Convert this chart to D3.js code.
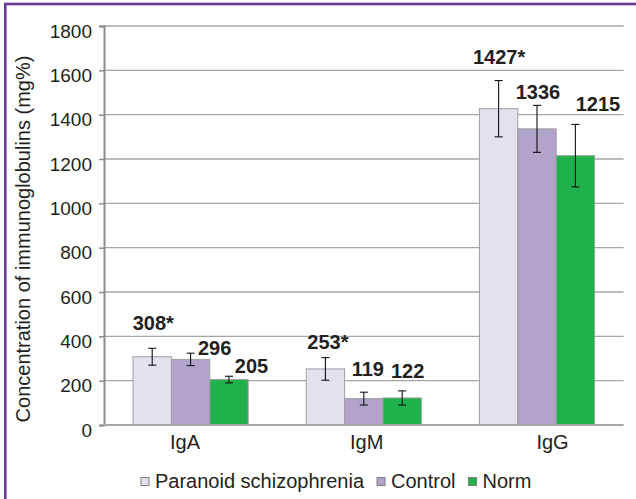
<!DOCTYPE html>
<html><head><meta charset="utf-8">
<script src="https://cdn.jsdelivr.net/npm/d3@7/dist/d3.min.js"></script>
<style>
html,body{margin:0;padding:0;background:#fff;}
svg{display:block;font-family:"Liberation Sans",Arial,Helvetica,sans-serif;}
</style></head>
<body><svg id="c" width="636" height="499"></svg>
<script>
// ---- data ----
const categories = ["IgA", "IgM", "IgG"];
const seriesNames = ["Paranoid schizophrenia", "Control", "Norm"];
const paranoidValues = [308, 253, 1427];
const controlValues = [296, 119, 1336];
const normValues = [205, 122, 1215];
const paranoidErrors = [38, 51, 127];
const controlErrors = [28, 29, 106];
const normErrors = [15, 32, 141];
const paranoidMarks = ["*", "*", "*"];
const controlMarks = ["", "", ""];
const normMarks = ["", "", ""];
const yTicks = [0, 200, 400, 600, 800, 1000, 1200, 1400, 1600, 1800];
const yTitle = "Concentration of immunoglobulins (mg%)";

// ---- layout / style ----
const colors = ["#e4e0ec", "#b1a3c9", "#21b14c"];
const W = 636, H = 499;
const plot = {left: 104, right: 623.6, top: 26, bottom: 425};
// label placement tweaks: [series][category] -> [dx from bar centre, gap above error top]
const labelDx = [[1, 2.5, 0.5], [24, 4, 1], [22.5, 5.5, 22.5]];
const labelGap = [[18, 8.7, 17], [-1.5, 16, 6], [3, 13, 13.6]];
const catLabelDx = [-5.6, 2.9, 15.5];

const series = seriesNames.map((name, i) => ({
  name,
  values: [paranoidValues, controlValues, normValues][i],
  errors: [paranoidErrors, controlErrors, normErrors][i],
  marks: [paranoidMarks, controlMarks, normMarks][i],
  color: colors[i]
}));

const svg = d3.select("#c");
svg.append("rect").attr("width", W).attr("height", H).attr("fill", "#fff");

const y = d3.scaleLinear().domain([0, 1800]).range([plot.bottom, plot.top]);
const x0 = d3.scaleBand().domain(categories).range([plot.left, plot.right])
  .paddingInner(0.335).paddingOuter(0.1675);
const x1 = d3.scaleBand().domain(seriesNames).range([0, x0.bandwidth()]).padding(0);

// gridlines
svg.append("g").selectAll("line").data(yTicks.filter(t => t > 0)).join("line")
  .attr("x1", plot.left).attr("x2", plot.right)
  .attr("y1", d => y(d)).attr("y2", d => y(d))
  .attr("stroke", "#a6a6a6").attr("stroke-width", 1.3);

// y axis
const yAxis = d3.axisLeft(y).tickValues(yTicks).tickFormat(d3.format("d")).tickSize(5).tickPadding(6);
const gy = svg.append("g").attr("transform", `translate(${plot.left},0)`).call(yAxis);
gy.select(".domain").attr("stroke", "#8c8c8c").attr("stroke-width", 2);
gy.selectAll(".tick line").attr("stroke", "#8c8c8c").attr("stroke-width", 1.5);
gy.selectAll(".tick text").attr("font-size", 19).attr("fill", "#231f20")
  .attr("font-family", "Liberation Sans, Arial, sans-serif")
  .attr("dy", null).attr("y", 11).attr("x", -12);

// bars
const groups = svg.append("g").selectAll("g").data(categories).join("g")
  .attr("transform", d => `translate(${x0(d)},0)`);

groups.each(function(cat, ci) {
  const g = d3.select(this);
  series.forEach((s, si) => {
    const v = s.values[ci];
    g.append("rect")
      .attr("x", x1(s.name)).attr("width", x1.bandwidth())
      .attr("y", y(v)).attr("height", y(0) - y(v))
      .attr("fill", s.color).attr("stroke", "#9f9f9f").attr("stroke-width", 1);
  });
});

// x axis line
svg.append("line").attr("x1", plot.left - 1).attr("x2", plot.right)
  .attr("y1", y(0)).attr("y2", y(0)).attr("stroke", "#a6a6a6").attr("stroke-width", 2);

// error bars and labels
groups.each(function(cat, ci) {
  const g = d3.select(this);
  series.forEach((s, si) => {
    const v = s.values[ci], e = s.errors[ci];
    const cx = x1(s.name) + x1.bandwidth() / 2;
    const eb = g.append("g").attr("stroke", "#111").attr("stroke-width", 1.1);
    eb.append("line").attr("x1", cx).attr("x2", cx).attr("y1", y(v + e)).attr("y2", y(v - e));
    eb.append("line").attr("x1", cx - 4).attr("x2", cx + 4).attr("y1", y(v + e)).attr("y2", y(v + e));
    eb.append("line").attr("x1", cx - 4).attr("x2", cx + 4).attr("y1", y(v - e)).attr("y2", y(v - e));
    g.append("text")
      .attr("x", cx + labelDx[si][ci])
      .attr("y", y(v + e) - labelGap[si][ci])
      .attr("text-anchor", "middle")
      .attr("font-size", 20).attr("font-weight", "bold").attr("fill", "#231f20")
      .text(v + s.marks[ci]);
  });
});

// category labels
svg.append("g").selectAll("text").data(categories).join("text")
  .attr("x", (d, i) => x0(d) + x0.bandwidth() / 2 + catLabelDx[i])
  .attr("y", 448.5).attr("text-anchor", "middle")
  .attr("font-size", 20).attr("fill", "#231f20").text(d => d);

// y title
svg.append("text")
  .attr("transform", `translate(29.5,${(55 + 423) / 2}) rotate(-90)`)
  .attr("text-anchor", "middle").attr("font-size", 20).attr("fill", "#231f20")
  .text(yTitle);

// legend
const lg = svg.append("g");
let lx = 141;
series.forEach(s => {
  lg.append("rect").attr("x", lx).attr("y", 477.5).attr("width", 8).attr("height", 8)
    .attr("fill", s.color).attr("stroke", "#7f7f7f").attr("stroke-width", 1);
  const t = lg.append("text").attr("x", lx + 14).attr("y", 488.3)
    .attr("font-size", 20).attr("fill", "#231f20").text(s.name);
  lx += 14 + t.node().getComputedTextLength() + 13;
});

// frame
svg.append("rect").attr("x", 5.3).attr("y", 4).attr("width", 700).attr("height", 600)
  .attr("fill", "none").attr("stroke", "#6a3f98").attr("stroke-width", 2.7);
</script></body></html>
